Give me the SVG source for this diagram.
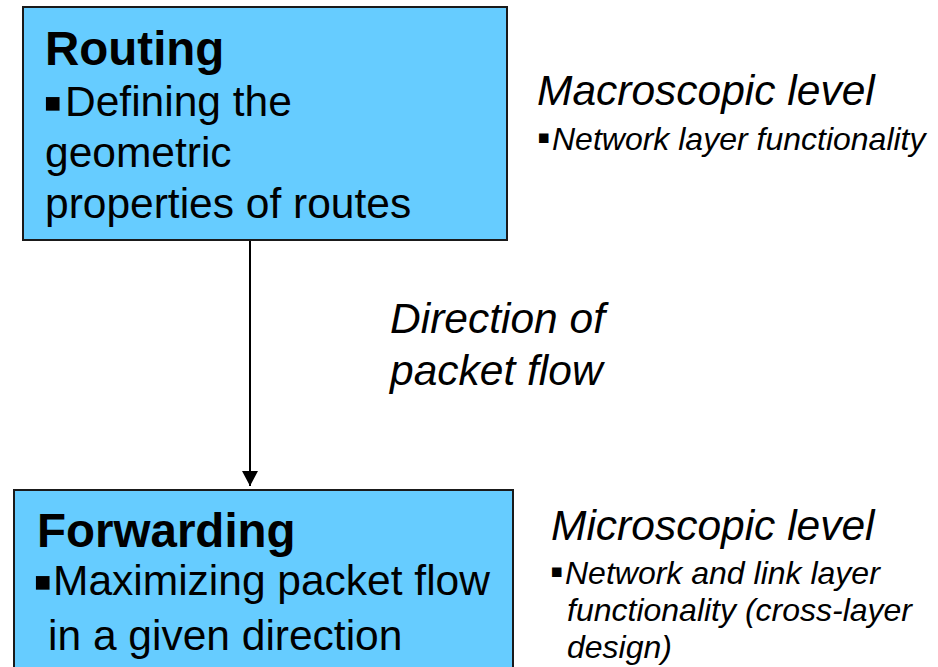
<svg xmlns="http://www.w3.org/2000/svg" width="938" height="667" viewBox="0 0 938 667">
<defs>
<style>
.box{fill:#66CCFF;stroke:#1a1a1a;stroke-width:2}
.t{font-family:"Liberation Sans",Arial,sans-serif;fill:#000}
.title{font-size:47.5px;font-weight:bold}
.body{font-size:42.5px}
.big{font-size:42.5px;font-style:italic}
.small{font-size:32px;font-style:italic}
.bul{font-style:normal}
.bb{font-size:55px}
.bs{font-size:38px}
.conn{stroke:#000;stroke-width:2;fill:none}
</style>
<marker id="arr" markerWidth="16" markerHeight="16" refX="15" refY="8" orient="auto" markerUnits="userSpaceOnUse">
<path d="M0,0 L15,8 L0,16 Z" fill="#000"/>
</marker>
</defs>
<rect width="938" height="667" fill="#fff"/>
<g id="connectors">
<line class="conn" x1="250" y1="241" x2="250" y2="486" marker-end="url(#arr)"/>
</g>
<g id="routing">
<rect class="box" x="23" y="7" width="484" height="233"/>
<text class="t title" x="45" y="65">Routing</text>
<text class="t body" y="116"><tspan class="bb" x="43" dy="5">▪</tspan><tspan x="65" dy="-5">Defining the</tspan></text>
<text class="t body" x="45" y="167">geometric</text>
<text class="t body" x="45" y="218">properties of routes</text>
</g>
<g id="forwarding">
<rect class="box" x="14" y="490" width="499" height="190"/>
<text class="t title" x="37" y="547">Forwarding</text>
<text class="t body" y="595"><tspan class="bb" x="33" dy="5">▪</tspan><tspan x="53" dy="-5">Maximizing packet flow</tspan></text>
<text class="t body" x="48" y="650">in a given direction</text>
</g>
<g id="macro">
<text class="t big" x="537" y="105">Macroscopic level</text>
<text class="t small" y="150"><tspan class="bul bs" x="537" dy="0">▪</tspan><tspan x="552" dy="0">Network layer functionality</tspan></text>
</g>
<g id="direction">
<text class="t big" x="390" y="333">Direction of</text>
<text class="t big" x="390" y="385">packet flow</text>
</g>
<g id="micro">
<text class="t big" x="551" y="540">Microscopic level</text>
<text class="t small" y="584"><tspan class="bul bs" x="550" dy="0">▪</tspan><tspan x="565" dy="0">Network and link layer</tspan></text>
<text class="t small" x="567" y="621">functionality (cross-layer</text>
<text class="t small" x="567" y="658">design)</text>
</g>
</svg>
